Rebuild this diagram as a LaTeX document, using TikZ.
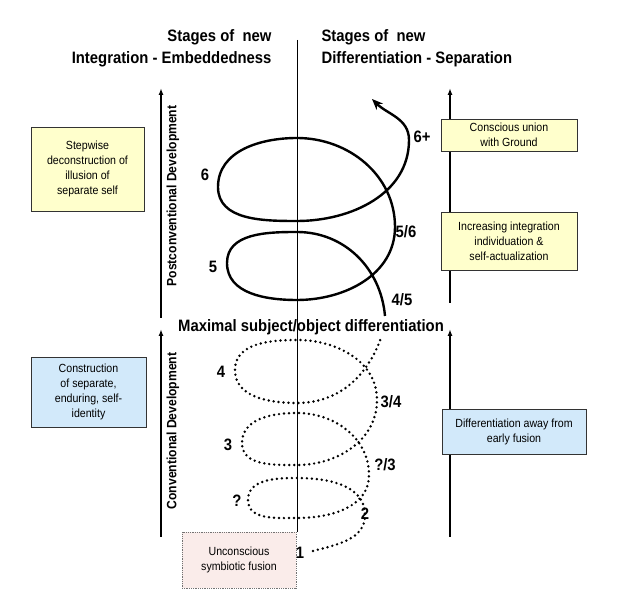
\documentclass[tikz,border=0pt]{standalone}
\usepackage{fontspec}
\setmainfont{Liberation Sans}[FakeStretch=0.9]
\usetikzlibrary{arrows.meta}

\definecolor{noteyellow}{RGB}{255,255,204}
\definecolor{noteblue}{RGB}{210,233,250}
\definecolor{notepink}{RGB}{250,236,234}

\newcommand{\notefont}{\fontsize{11.8}{15}\selectfont}
\newcommand{\stagefont}{\fontsize{16.5}{18}\selectfont\bfseries}
\newcommand{\headfont}{\fontsize{16.5}{22}\selectfont\bfseries}
\newcommand{\sidefont}{\fontsize{13.5}{16}\selectfont\bfseries}

\tikzset{
  note/.style={draw=black!80, line width=0.8pt, align=center, inner sep=0pt, font=\notefont},
  stage/.style={font=\stagefont, inner sep=0pt},
  devarrow/.style={line width=1.4pt, -{Latex[length=7pt,width=5pt]}},
  spiral/.style={line width=2.4pt},
  spiraldots/.style={line width=2.7pt, line cap=round, dash pattern=on 0pt off 5pt},
}

\begin{document}
\begin{tikzpicture}[x=1pt,y=1pt]
  \useasboundingbox (0,0) rectangle (618,610);

  % headings and the middle line
  \node[font=\headfont, align=right, anchor=east] (headL) at (275,562) {Stages of\ \ new\\Integration - Embeddedness};
  \node[font=\headfont, align=left, anchor=west] (headR) at (318,562) {Stages of\ \ new\\Differentiation - Separation};
  \coordinate (midtop) at (297,570);
  \coordinate (midbot) at (297,78);
  \draw[line width=0.8pt] (midtop) -- (midbot);

  % development arrows
  \coordinate (lup0) at (161,292);  \coordinate (lup1) at (161,522);
  \coordinate (llo0) at (161,73);   \coordinate (llo1) at (161,281);
  \coordinate (rup0) at (450,307);  \coordinate (rup1) at (450,522);
  \coordinate (rlo0) at (450,73);   \coordinate (rlo1) at (450,281);
  \draw[devarrow] (lup0) -- (lup1);
  \draw[devarrow] (llo0) -- (llo1);
  \draw[devarrow] (rup0) -- (rup1);
  \draw[devarrow] (rlo0) -- (rlo1);
  \node[font=\sidefont, rotate=90] (postconv) at (173,414) {Postconventional Development};
  \node[font=\sidefont, rotate=90] (conv) at (173,179) {Conventional Development};

  % notes
  \node[note, fill=noteyellow, minimum width=113pt, minimum height=84pt] (stepwise) at (87.5,441) {Stepwise\\deconstruction of\\illusion of\\separate self};
  \node[note, fill=noteyellow, minimum width=136pt, minimum height=32pt] (union) at (509,475) {Conscious union\\with Ground};
  \node[note, fill=noteyellow, minimum width=136pt, minimum height=58pt] (increasing) at (509,369) {Increasing integration\\individuation \&\\self-actualization};
  \node[note, fill=noteblue, minimum width=115pt, minimum height=70pt] (construction) at (88.5,218) {Construction\\of separate,\\enduring, self-\\identity};
  \node[note, fill=noteblue, minimum width=144pt, minimum height=45pt] (away) at (514,178.5) {Differentiation away from\\early fusion};
  \node[note, fill=notepink, draw=black!55, densely dotted, minimum width=114pt, minimum height=56pt] (fusion) at (239,50) {Unconscious\\symbiotic fusion};

  \node[stage] (maximal) at (311,283) {Maximal subject/object differentiation};

  % the spiral
  \draw[spiraldots] (313,59) to[out=15,in=270] (365,95) to[out=90,in=0] (297,132)
    to[out=180,in=90] (248,110) to[out=270,in=180] (297,92) to[out=0,in=270] (369,135)
    to[out=90,in=0] (297,197) to[out=180,in=90] (242,167) to[out=270,in=180] (297,145)
    to[out=0,in=270] (377,210) to[out=90,in=0] (297,270) to[out=180,in=90] (235,240)
    to[out=270,in=180] (297,207) to[out=0,in=250] (381,272);
  \draw[spiral, -{Stealth[length=11pt,width=9pt]}] (385,294) to[out=95,in=0] (297,378)
    to[out=180,in=90] (227,347) to[out=270,in=180] (297,310) to[out=0,in=270] (395,383)
    to[out=90,in=0] (297,472) to[out=180,in=90] (218,423) to[out=270,in=180] (297,389)
    to[out=0,in=270] (409,470) to[out=90,in=-45] (372,511);

  % stage numbers
  \node[stage] (s1) at (300,57) {1};
  \node[stage] (s2) at (365,96) {2};
  \node[stage] (sq) at (237,109) {?};
  \node[stage] (sq3) at (385,145) {?/3};
  \node[stage] (s3) at (228,165) {3};
  \node[stage] (s34) at (391,208) {3/4};
  \node[stage] (s4) at (221,238) {4};
  \node[stage] (s45) at (402,310) {4/5};
  \node[stage] (s5) at (213,343) {5};
  \node[stage] (s56) at (406,378) {5/6};
  \node[stage] (s6) at (205,435) {6};
  \node[stage] (s6p) at (422,473) {6+};
\end{tikzpicture}
\end{document}
